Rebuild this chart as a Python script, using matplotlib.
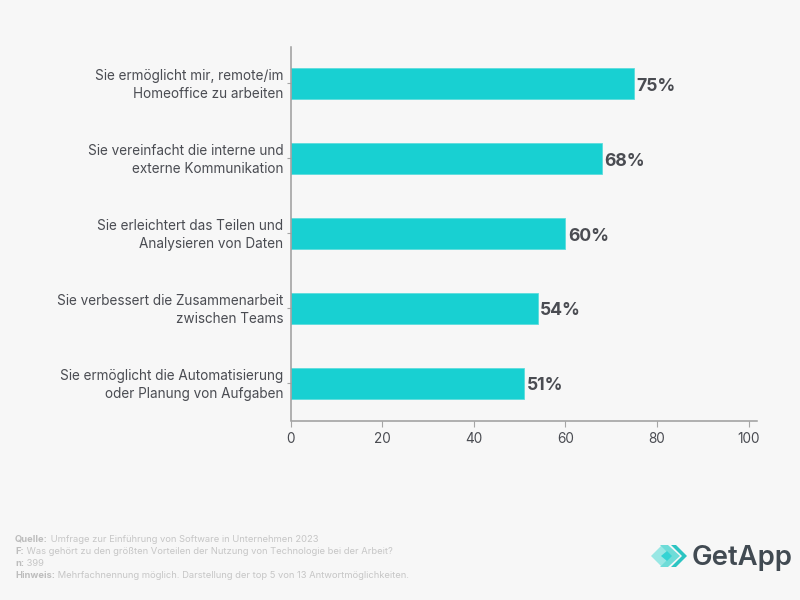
import matplotlib
matplotlib.use("Agg")
import matplotlib.pyplot as plt
from matplotlib.patches import Polygon
from matplotlib.transforms import ScaledTranslation

categories = [
    "Sie ermöglicht mir, remote/im\nHomeoffice zu arbeiten",
    "Sie vereinfacht die interne und\nexterne Kommunikation",
    "Sie erleichtert das Teilen und\nAnalysieren von Daten",
    "Sie verbessert die Zusammenarbeit\nzwischen Teams",
    "Sie ermöglicht die Automatisierung\noder Planung von Aufgaben",
]
values = [75, 68, 60, 54, 51]
x_ticks = [0, 20, 40, 60, 80, 100]
footnotes = [
    ("Quelle:", " Umfrage zur Einführung von Software in Unternehmen 2023"),
    ("F:", " Was gehört zu den größten Vorteilen der Nutzung von Technologie bei der Arbeit?"),
    ("n:", " 399"),
    ("Hinweis:", " Mehrfachnennung möglich. Darstellung der top 5 von 13 Antwortmöglichkeiten."),
]

BG = "#f7f7f7"
TEAL = "#18d0d2"
DARK = "#4a4c52"
plt.rcParams["font.family"] = ["Inter", "DejaVu Sans"]

W, H = 800, 600
fig = plt.figure(figsize=(8, 6), dpi=100, facecolor=BG)
L, R, T, B = 290.5, 757, 47, 420.5
ax = fig.add_axes([L / W, 1 - B / H, (R - L) / W, (B - T) / H], facecolor=BG)
ypos = list(range(len(values)))
ax.barh(ypos, values, height=0.415, color=TEAL, edgecolor="#5cdcdc", linewidth=0.6)
ax.set_ylim(len(values) - 0.5, -0.487)
ax.set_xlim(0, 101.85)
ax.set_xticks(x_ticks)
ax.set_yticks(ypos)
ax.set_yticklabels(categories, fontsize=9.75, color=DARK, linespacing=1.36, va="center")
ax.tick_params(axis="x", length=4, width=0.8, color="#a5a5a5", labelsize=9.8, labelcolor=DARK, pad=4)
ax.tick_params(axis="y", length=3, width=0.8, color="#a5a5a5", pad=2)
shift = ScaledTranslation(0, -1.44 / 72, fig.dpi_scale_trans)
for lab in ax.get_yticklabels():
    lab.set_transform(lab.get_transform() + shift)
for s in ("top", "right"):
    ax.spines[s].set_visible(False)
for s in ("left", "bottom"):
    ax.spines[s].set_color("#9c9c9c")
    ax.spines[s].set_linewidth(1.1)
for y, v in zip(ypos, values):
    ax.annotate(f"{v}%", (v, y), xytext=(1.8, -2), textcoords="offset points",
                va="center", ha="left", fontsize=12.7, fontweight="bold", color=DARK)

# Footnotes, each with a bold lead-in
y_px = [539, 551, 563, 575]
rend = fig.canvas.get_renderer()
for (lead, rest), yp in zip(footnotes, y_px):
    t = fig.text(15 / W, 1 - yp / H, lead, fontsize=6.75, fontweight="bold", color="#bdbdbd", va="center")
    x1 = t.get_window_extent(rend).x1
    fig.text(x1 / W, 1 - yp / H, rest, fontsize=6.75, color="#c6c6c6", va="center")

# Logo drawn in pixel coordinates
lg = fig.add_axes([0, 0, 1, 1], facecolor="none")
lg.set_xlim(0, W); lg.set_ylim(H, 0); lg.axis("off")
lg.add_patch(Polygon([(651, 556), (662, 545), (673, 556), (662, 567)], color="#8fe6e2", lw=0, alpha=0.9))
lg.add_patch(Polygon([(660, 545), (668, 545), (680, 556), (668, 567), (660, 567), (671, 556)], color="#6edcd8", lw=0))
lg.add_patch(Polygon([(671, 545), (676, 545), (687, 556), (676, 567), (671, 567), (682, 556)], color="#2cc4c2", lw=0))
lg.add_patch(Polygon([(661, 556), (667, 551), (672, 556), (667, 561)], color="#35d3d3", lw=0))
lg.text(692, 558, "GetApp", fontsize=19.8, fontweight="semibold", color="#414a52", va="center", ha="left")

fig.savefig("out.png", dpi=100, facecolor=BG)
